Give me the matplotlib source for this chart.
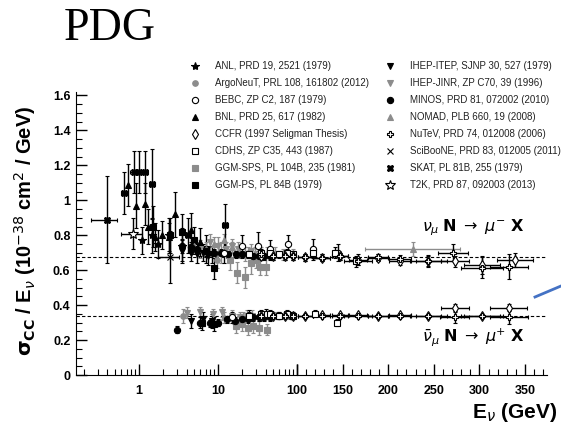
import numpy as np
import matplotlib
matplotlib.use("Agg")
from matplotlib import pyplot as plt
from matplotlib.lines import Line2D
from matplotlib.ticker import FixedLocator, MultipleLocator, NullFormatter, FixedFormatter

plt.rcParams['font.family'] = ['Liberation Sans', 'DejaVu Sans']
plt.rcParams['mathtext.fontset'] = 'dejavusans'

GRAY = '#8c8c8c'

# ---- data (E in GeV, sigma/E in 1e-38 cm^2/GeV) ----
# neutrino
anl_e = [1.1, 1.45, 1.75, 2.4, 3.5]
anl_y = [0.77, 0.80, 0.75, 0.80, 0.74]
anl_err = [0.08, 0.10, 0.08, 0.10, 0.10]

bnl_e = [0.73, 0.92, 1.19, 1.3, 1.6, 1.95, 2.4, 2.9, 4.5, 6.0]
bnl_y = [1.09, 0.97, 0.98, 0.85, 0.79, 0.80, 0.79, 0.92, 0.83, 0.76]
bnl_err = [0.12, 0.13, 0.12, 0.10, 0.08, 0.08, 0.08, 0.13, 0.10, 0.08]

skat_e = [0.39, 0.65, 0.86, 1.0, 1.2, 1.46, 4.2, 12.3]
skat_y = [0.89, 1.04, 1.16, 1.16, 1.16, 1.095, 0.80, 0.86]
skat_err = [0.25, 0.12, 0.12, 0.12, 0.12, 0.20, 0.10, 0.12]
skat_xerr = [0.14, 0.06, 0.08, 0.08, 0.10, 0.12, 0.4, 1.0]

t2k_e = [0.85]
t2k_y = [0.81]
t2k_err = [0.09]
t2k_xerr = [0.25]

scib_e = [2.47]
scib_y = [0.675]
scib_err = [0.15]
scib_xerr = [0.75]

minos_e = [3.5, 4.5, 5.5, 7, 9, 11, 13.5, 17, 20, 24, 28, 33, 38, 45]
minos_y = [0.74, 0.73, 0.72, 0.71, 0.70, 0.70, 0.69, 0.69, 0.69, 0.69, 0.68, 0.68, 0.68, 0.68]
minos_err = [0.04, 0.03, 0.03, 0.03, 0.02, 0.02, 0.02, 0.02, 0.02, 0.02, 0.02, 0.02, 0.02, 0.02]

itep_e = [3.5, 4.5, 5.5, 6.5, 7.5, 8.5]
itep_y = [0.71, 0.70, 0.69, 0.70, 0.68, 0.69]
itep_err = [0.06, 0.05, 0.05, 0.05, 0.05, 0.05]

jinr_e = [6, 8, 10, 12.5, 15, 18, 22, 26]
jinr_y = [0.72, 0.76, 0.74, 0.72, 0.74, 0.72, 0.69, 0.71]
jinr_err = [0.05, 0.05, 0.05, 0.04, 0.04, 0.04, 0.04, 0.04]

ggms_e = [11, 14, 17.5, 22, 26, 30, 34, 40.5]
ggms_y = [0.70, 0.66, 0.585, 0.56, 0.64, 0.66, 0.62, 0.62]
ggms_err = [0.06, 0.06, 0.06, 0.06, 0.06, 0.05, 0.05, 0.05]

ggmp_e = [1.5, 2.5, 3.5, 5, 7, 8.9]
ggmp_y = [0.85, 0.80, 0.82, 0.77, 0.72, 0.61]
ggmp_err = [0.12, 0.10, 0.10, 0.08, 0.08, 0.06]

argo_e = [9.6]
argo_y = [0.66]
argo_err = [0.05]

nomad_e = [5, 7, 9, 12, 15, 19, 24, 29, 35, 42, 52, 66, 90, 227]
nomad_y = [0.74, 0.72, 0.75, 0.77, 0.73, 0.70, 0.70, 0.70, 0.70, 0.70, 0.70, 0.69, 0.69, 0.72]
nomad_err = [0.04, 0.04, 0.04, 0.04, 0.03, 0.03, 0.03, 0.03, 0.03, 0.03, 0.03, 0.03, 0.03, 0.04]
nomad_xerr = [0, 0, 0, 0, 0, 0, 0, 0, 0, 0, 0, 0, 0, 52]

bebc_e = [12, 20, 32, 45, 77, 117, 145]
bebc_y = [0.70, 0.74, 0.74, 0.72, 0.75, 0.72, 0.70]
bebc_err = [0.06, 0.06, 0.08, 0.05, 0.05, 0.06, 0.05]

cdhs_e = [25, 35, 45, 60, 75, 90, 117, 142, 165]
cdhs_y = [0.69, 0.70, 0.70, 0.69, 0.70, 0.69, 0.70, 0.70, 0.65]
cdhs_err = [0.02, 0.02, 0.02, 0.02, 0.02, 0.02, 0.03, 0.03, 0.03]

ccfr_e = [35, 50, 70, 90, 109, 127, 147, 167, 189, 213, 244, 273, 303, 339]
ccfr_y = [0.68, 0.68, 0.68, 0.68, 0.675, 0.67, 0.68, 0.66, 0.67, 0.65, 0.65, 0.65, 0.63, 0.66]
ccfr_err = [0.02, 0.02, 0.02, 0.02, 0.02, 0.02, 0.02, 0.03, 0.02, 0.02, 0.03, 0.03, 0.05, 0.04]
ccfr_xerr = [0, 0, 0, 0, 8, 9, 9, 10, 11, 12, 14, 15, 20, 20]

nutev_e = [35, 50, 70, 90, 109, 127, 147, 167, 189, 213, 244, 271, 303, 332]
nutev_y = [0.69, 0.68, 0.68, 0.68, 0.675, 0.67, 0.68, 0.65, 0.675, 0.665, 0.655, 0.70, 0.615, 0.62]
nutev_err = [0.02, 0.02, 0.02, 0.02, 0.02, 0.02, 0.02, 0.02, 0.02, 0.02, 0.03, 0.05, 0.06, 0.07]
nutev_xerr = [0, 0, 0, 0, 8, 9, 9, 15, 11, 12, 20, 16, 23, 21]

# antineutrino
minos_ae = [3.0, 5.9, 7.9, 10, 13, 16.4, 20, 24, 28, 33, 38, 45]
minos_ay = [0.26, 0.30, 0.295, 0.30, 0.32, 0.31, 0.32, 0.32, 0.33, 0.33, 0.33, 0.33]
minos_aerr = [0.02, 0.03, 0.02, 0.02, 0.02, 0.02, 0.02, 0.02, 0.02, 0.02, 0.02, 0.02]

itep_ae = [4.5, 6.5, 8.5]
itep_ay = [0.31, 0.32, 0.31]
itep_aerr = [0.04, 0.04, 0.04]

jinr_ae = [4.05, 5.9, 8.6, 11.2, 15, 19, 23, 27]
jinr_ay = [0.357, 0.36, 0.35, 0.36, 0.34, 0.33, 0.34, 0.34]
jinr_aerr = [0.03, 0.03, 0.03, 0.03, 0.03, 0.03, 0.03, 0.03]

ggms_ae = [17, 20, 24, 28, 33, 41.5]
ggms_ay = [0.28, 0.29, 0.27, 0.28, 0.27, 0.26]
ggms_aerr = [0.04, 0.04, 0.04, 0.04, 0.04, 0.03]

ggmp_ae = [6.2, 9.0]
ggmp_ay = [0.30, 0.29]
ggmp_aerr = [0.04, 0.04]

argo_ae = [3.6]
argo_ay = [0.34]
argo_aerr = [0.04]

nomad_ae = [12, 16, 21, 27, 34, 43, 55, 70, 90]
nomad_ay = [0.33, 0.32, 0.33, 0.33, 0.34, 0.34, 0.34, 0.34, 0.34]
nomad_aerr = [0.03, 0.03, 0.03, 0.02, 0.02, 0.02, 0.02, 0.02, 0.02]

bebc_ae = [15, 25, 40, 60, 85]
bebc_ay = [0.33, 0.34, 0.35, 0.34, 0.34]
bebc_aerr = [0.03, 0.03, 0.03, 0.02, 0.02]

cdhs_ae = [25, 35, 45, 60, 75, 90, 120, 144]
cdhs_ay = [0.34, 0.35, 0.35, 0.34, 0.35, 0.34, 0.35, 0.30]
cdhs_aerr = [0.02, 0.02, 0.02, 0.02, 0.02, 0.02, 0.02, 0.02]

ccfr_ae = [35, 50, 70, 90, 109, 127, 147, 167, 189, 213, 244, 273, 303, 332]
ccfr_ay = [0.34, 0.34, 0.34, 0.34, 0.34, 0.345, 0.345, 0.345, 0.34, 0.345, 0.335, 0.385, 0.335, 0.385]
ccfr_aerr = [0.01, 0.01, 0.01, 0.01, 0.01, 0.01, 0.01, 0.01, 0.01, 0.01, 0.01, 0.02, 0.01, 0.02]
ccfr_axerr = [0, 0, 0, 0, 8, 9, 9, 10, 11, 12, 14, 15, 20, 20]

nutev_ae = [35, 50, 70, 90, 109, 127, 147, 167, 189, 213, 244, 273, 303, 332]
nutev_ay = [0.34, 0.34, 0.34, 0.34, 0.34, 0.34, 0.335, 0.34, 0.34, 0.335, 0.335, 0.33, 0.335, 0.33]
nutev_aerr = [0.01, 0.01, 0.01, 0.01, 0.01, 0.01, 0.01, 0.01, 0.01, 0.01, 0.01, 0.03, 0.01, 0.04]
nutev_axerr = [0, 0, 0, 0, 8, 9, 9, 15, 11, 12, 20, 16, 23, 21]

nu_line = 0.677
nubar_line = 0.335

legend_labels = [
    "ANL, PRD 19, 2521 (1979)", "ArgoNeuT, PRL 108, 161802 (2012)",
    "BEBC, ZP C2, 187 (1979)", "BNL, PRD 25, 617 (1982)",
    "CCFR (1997 Seligman Thesis)", "CDHS, ZP C35, 443 (1987)",
    "GGM-SPS, PL 104B, 235 (1981)", "GGM-PS, PL 84B (1979)",
    "IHEP-ITEP, SJNP 30, 527 (1979)", "IHEP-JINR, ZP C70, 39 (1996)",
    "MINOS, PRD 81, 072002 (2010)", "NOMAD, PLB 660, 19 (2008)",
    "NuTeV, PRD 74, 012008 (2006)", "SciBooNE, PRD 83, 012005 (2011)",
    "SKAT, PL 81B, 255 (1979)", "T2K, PRD 87, 092003 (2013)",
]

# marker, face, edge, size
styles = [
    ('*', 'k', 'k', 6), ('o', GRAY, GRAY, 4), ('o', 'white', 'k', 4.5), ('^', 'k', 'k', 4.5),
    ('d', 'white', 'k', 5), ('s', 'white', 'k', 4.5), ('s', GRAY, GRAY, 4.5), ('s', 'k', 'k', 4.5),
    ('v', 'k', 'k', 4.5), ('v', GRAY, GRAY, 4.5), ('o', 'k', 'k', 4.5), ('^', GRAY, GRAY, 4.5),
    ('P', 'white', 'k', 5), ('x', 'k', 'k', 4.5), ('X', 'k', 'k', 5), ('*', 'white', 'k', 7),
]

fig = plt.figure(figsize=(5.61, 4.25), dpi=100)
x0, xm, x1 = 76 / 561, 297 / 561, 547 / 561
y0, y1 = 1 - 375 / 425, 1 - 92 / 425
axl = fig.add_axes([x0, y0, xm - x0, y1 - y0])
axr = fig.add_axes([xm, y0, x1 - xm, y1 - y0], sharey=axl)


def draw(idx, e, y, yerr, xerr=None):
    m, fc, ec, ms = styles[idx]
    e = np.asarray(e, float)
    y = np.asarray(y, float)
    yerr = np.asarray(yerr, float)
    xerr = np.zeros_like(e) if xerr is None else np.asarray(xerr, float)
    ecol = GRAY if fc == GRAY else 'k'
    for ax, mask in ((axl, e <= 100), (axr, e > 100)):
        if mask.any():
            ax.errorbar(e[mask], y[mask], yerr=yerr[mask], xerr=xerr[mask], fmt=m,
                        mfc=fc, mec=ec, ms=ms, mew=0.8, ecolor=ecol, elinewidth=1.0,
                        capsize=1.5, capthick=0.8, zorder=3)


for ax in (axl, axr):
    ax.axhline(nu_line, color='k', ls=(0, (3, 2)), lw=0.8, zorder=1)
    ax.axhline(nubar_line, color='k', ls=(0, (3, 2)), lw=0.8, zorder=1)

draw(7, ggmp_e, ggmp_y, ggmp_err)
draw(6, ggms_e, ggms_y, ggms_err)
draw(9, jinr_e, jinr_y, jinr_err)
draw(11, nomad_e, nomad_y, nomad_err, nomad_xerr)
draw(1, argo_e, argo_y, argo_err)
draw(0, anl_e, anl_y, anl_err)
draw(3, bnl_e, bnl_y, bnl_err)
draw(14, skat_e, skat_y, skat_err, skat_xerr)
draw(15, t2k_e, t2k_y, t2k_err, t2k_xerr)
draw(13, scib_e, scib_y, scib_err, scib_xerr)
draw(10, minos_e, minos_y, minos_err)
draw(8, itep_e, itep_y, itep_err)
draw(2, bebc_e, bebc_y, bebc_err)
draw(5, cdhs_e, cdhs_y, cdhs_err)
draw(4, ccfr_e, ccfr_y, ccfr_err, ccfr_xerr)
draw(12, nutev_e, nutev_y, nutev_err, nutev_xerr)

draw(6, ggms_ae, ggms_ay, ggms_aerr)
draw(9, jinr_ae, jinr_ay, jinr_aerr)
draw(11, nomad_ae, nomad_ay, nomad_aerr)
draw(1, argo_ae, argo_ay, argo_aerr)
draw(7, ggmp_ae, ggmp_ay, ggmp_aerr)
draw(10, minos_ae, minos_ay, minos_aerr)
draw(8, itep_ae, itep_ay, itep_aerr)
draw(2, bebc_ae, bebc_ay, bebc_aerr)
draw(5, cdhs_ae, cdhs_ay, cdhs_aerr)
draw(4, ccfr_ae, ccfr_ay, ccfr_aerr, ccfr_axerr)
draw(12, nutev_ae, nutev_ay, nutev_aerr, nutev_axerr)

# axes setup
axl.set_xscale('log')
axl.set_xlim(0.16, 100)
axr.set_xlim(100, 374)
axl.set_ylim(0, 1.62)
axl.yaxis.set_major_locator(FixedLocator([0, 0.2, 0.4, 0.6, 0.8, 1.0, 1.2, 1.4, 1.6]))
axl.yaxis.set_major_formatter(FixedFormatter(['0', '0.2', '0.4', '0.6', '0.8', '1', '1.2', '1.4', '1.6']))
axl.yaxis.set_minor_locator(MultipleLocator(0.05))
axl.xaxis.set_major_locator(FixedLocator([1, 10, 100]))
axl.xaxis.set_major_formatter(FixedFormatter(['1', '10', '']))
axl.xaxis.set_minor_formatter(NullFormatter())
axr.xaxis.set_major_locator(MultipleLocator(50))
axr.xaxis.set_minor_locator(MultipleLocator(10))

for ax in (axl, axr):
    ax.spines['top'].set_visible(False)
    ax.spines['right'].set_visible(False)
    ax.patch.set_alpha(0)
    ax.tick_params(which='both', direction='in', labelsize=9)
    ax.tick_params(which='major', length=8, width=1)
    ax.tick_params(which='minor', length=4, width=0.8)
    ax.tick_params(axis='x', pad=7)
    for lab in ax.get_xticklabels() + ax.get_yticklabels():
        lab.set_fontweight('bold')
axr.spines['left'].set_visible(False)
axr.tick_params(axis='y', which='both', left=False, labelleft=False)
axl.tick_params(axis='y', pad=4)

# reaction labels
axr.text(0.50, 0.519, r'$\nu_{\mu}$ $\mathbf{N}$ $\rightarrow$ $\mu^{-}$ $\mathbf{X}$',
         transform=axr.transAxes, fontsize=11.5, ha='left', va='center')
axr.text(0.50, 0.134, r'$\bar{\nu}_{\mu}$ $\mathbf{N}$ $\rightarrow$ $\mu^{+}$ $\mathbf{X}$',
         transform=axr.transAxes, fontsize=11.5, ha='left', va='center')

fig.text(0.993, 1 - 412 / 425, r'E$_{\nu}$ (GeV)', ha='right', va='center',
         fontsize=15, fontweight='bold')
fig.text(25 / 561, 1 - 231 / 425,
         r'$\mathbf{\sigma_{CC}}$ / E$_{\nu}$ (10$^{-38}$ cm$^{2}$ / GeV)',
         rotation=90, ha='center', va='center', fontsize=14.5, fontweight='bold')

fig.text(64 / 561, 1 - 29 / 425, 'PDG', family=['Liberation Serif', 'DejaVu Serif'],
         fontsize=33, ha='left', va='center')

handles = [Line2D([], [], ls='none', marker=m, mfc=fc, mec=ec, ms=ms, mew=0.8)
           for (m, fc, ec, ms) in styles]
fig.legend(handles, legend_labels, ncol=2, loc='upper left',
           bbox_to_anchor=(190 / 561, 1 - 61 / 425), bbox_transform=fig.transFigure,
           frameon=False, fontsize=7, labelspacing=0.72, handlelength=1.0,
           handletextpad=1.6, columnspacing=1.6, borderpad=0, borderaxespad=0,
           labelcolor='#222222')

# stray blue stroke from the slide
fig.add_artist(Line2D([535 / 561, 1.0], [1 - 297 / 425, 1 - 286 / 425],
                      transform=fig.transFigure, color='#4472c4', lw=2))

fig.savefig('out.png', dpi=100)
